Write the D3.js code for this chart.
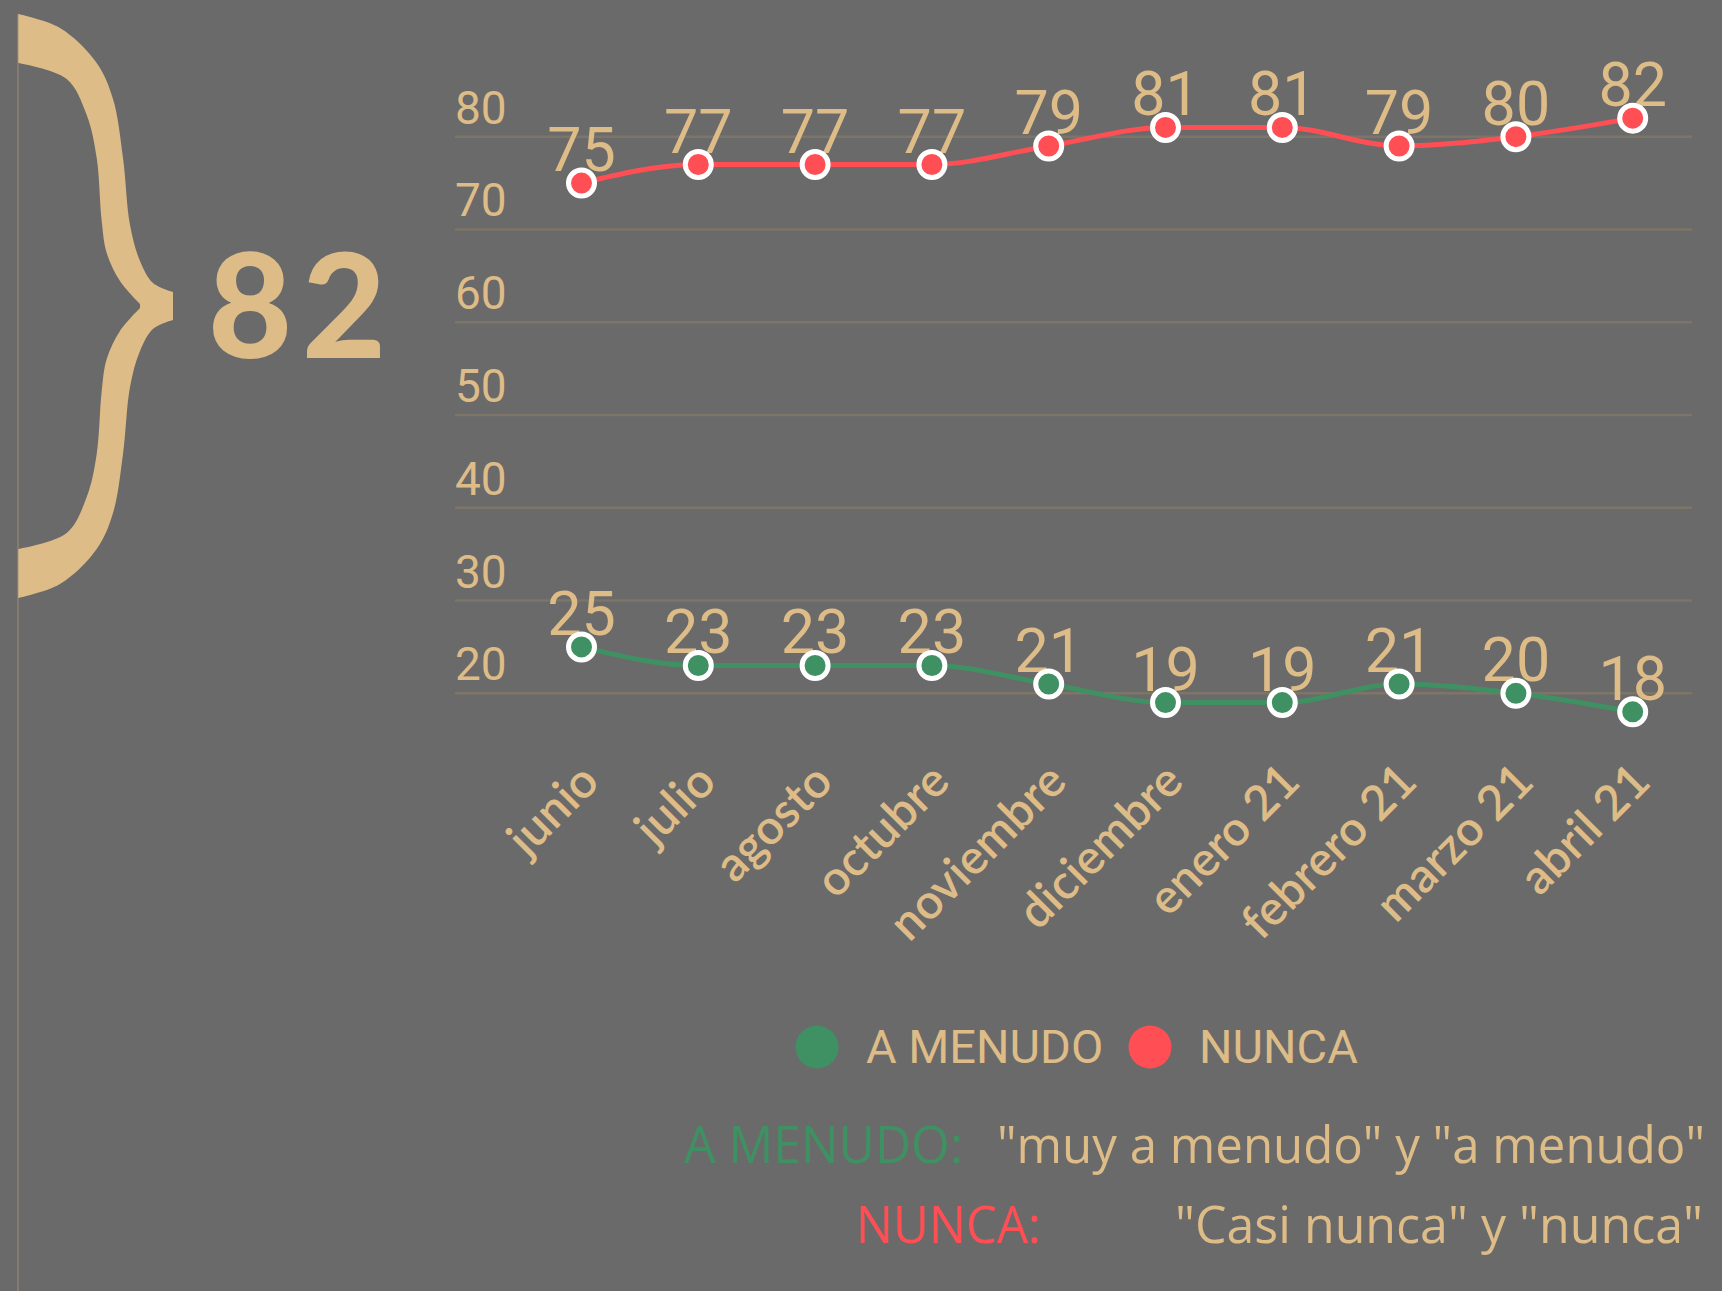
<!DOCTYPE html>
<html>
<head>
<meta charset="utf-8">
<script src="https://cdn.jsdelivr.net/npm/d3@7"></script>
<style>
  body { margin: 0; background: #6a6a6a; }
  svg { display: block; }
</style>
</head>
<body>
<svg id="chart" width="1722" height="1291"></svg>
<script>

// months on the x axis
let months = ["junio", "julio", "agosto", "octubre", "noviembre", "diciembre",
              "enero 21", "febrero 21", "marzo 21", "abril 21"];
// series values (%)
let aMenudo = [25, 23, 23, 23, 21, 19, 19, 21, 20, 18];
let nunca = [75, 77, 77, 77, 79, 81, 81, 79, 80, 82];
// y axis ticks
let yTicks = [20, 30, 40, 50, 60, 70, 80];
// headline figure
let bigNumber = "82";

let tan = "#ddbc88";
let green = "#3f9163";
let red = "#ff4f55";
let gridColor = "#7e7569";

class MenudoNuncaVis {

    constructor(svg_id) {
        this.svg_id = svg_id;
        this.render();
    }
    render() {
        let svg = d3.select("#" + this.svg_id);

        svg.append("rect")
            .attr("width", 1722)
            .attr("height", 1291)
            .style("fill", "#6a6a6a");

        // scales
        let x = d3.scalePoint()
            .domain(months)
            .range([581.5, 1632.7]);
        let y = d3.scaleLinear()
            .domain([20, 80])
            .range([693.3, 136.7]);

        // gridlines + tick labels
        let grid = svg.append("g");
        grid.selectAll(".grid").data(yTicks)
            .enter().append("line")
            .attr("class", "grid")
            .attr("x1", 455)
            .attr("x2", 1692)
            .attr("y1", function(d) {return y(d);})
            .attr("y2", function(d) {return y(d);})
            .style("stroke", gridColor)
            .style("stroke-width", 2.5);
        grid.selectAll(".ytick").data(yTicks)
            .enter().append("text")
            .attr("class", "ytick")
            .attr("x", 455)
            .attr("y", function(d) {return y(d) - 13;})
            .style("font-family", "Roboto")
            .style("font-size", "46px")
            .style("fill", tan)
            .text(function(d) {return d;});

        // x labels, rotated
        svg.selectAll(".xlab").data(months)
            .enter().append("text")
            .attr("class", "xlab")
            .attr("transform", function(d) {return "translate(" + (x(d) + 20) + ",784) rotate(-45)";})
            .attr("text-anchor", "end")
            .style("font-family", "Lato")
            .style("font-weight", 600)
            .style("font-size", "48px")
            .style("fill", tan)
            .text(function(d) {return d;});

        let series = [
            {name: "A MENUDO", values: aMenudo, color: green},
            {name: "NUNCA", values: nunca, color: red}
        ];

        let line = d3.line()
            .x(function(d, i) {return x(months[i]);})
            .y(function(d) {return y(d);})
            .curve(d3.curveMonotoneX);

        let sg = svg.selectAll(".series").data(series)
            .enter().append("g")
            .attr("class", "series");

        sg.append("path")
            .attr("d", function(d) {return line(d.values);})
            .style("fill", "none")
            .style("stroke", function(d) {return d.color;})
            .style("stroke-width", 5);

        // value labels (under the markers)
        sg.selectAll(".val").data(function(d) {return d.values;})
            .enter().append("text")
            .attr("class", "val")
            .attr("x", function(d, i) {return x(months[i]);})
            .attr("y", function(d) {return y(d) - 12;})
            .attr("text-anchor", "middle")
            .style("font-family", "Roboto")
            .style("font-size", "61px")
            .style("fill", tan)
            .text(function(d) {return d;});

        sg.selectAll(".dot").data(function(d) {return d.values.map(function(v) {return {v: v, c: d.color};});})
            .enter().append("circle")
            .attr("class", "dot")
            .attr("cx", function(d, i) {return x(months[i]);})
            .attr("cy", function(d) {return y(d.v);})
            .attr("r", 13)
            .style("fill", function(d) {return d.c;})
            .style("stroke", "#ffffff")
            .style("stroke-width", 5);

        // legend
        let legX = [817, 1150];
        let leg = svg.selectAll(".leg").data(series)
            .enter().append("g")
            .attr("class", "leg")
            .attr("transform", function(d, i) {return "translate(" + legX[i] + ",1047)";});
        leg.append("circle")
            .attr("r", 21.5)
            .style("fill", function(d) {return d.color;});
        leg.append("text")
            .attr("x", 49)
            .attr("y", 16)
            .style("font-family", "Roboto")
            .style("font-size", "47px")
            .style("fill", tan)
            .text(function(d) {return d.name;});

        // definitions
        let notes = [
            {t: "A MENUDO:", x: 684, y: 1163, w: 279, c: green},
            {t: "\"muy a menudo\" y \"a menudo\"", x: 997, y: 1163, w: 708, c: tan},
            {t: "NUNCA:", x: 856, y: 1243, w: 185, c: red},
            {t: "\"Casi nunca\" y \"nunca\"", x: 1175, y: 1243, w: 528, c: tan}
        ];
        svg.selectAll(".note").data(notes)
            .enter().append("text")
            .attr("class", "note")
            .attr("x", function(d) {return d.x;})
            .attr("y", function(d) {return d.y;})
            .attr("textLength", function(d) {return d.w;})
            .attr("lengthAdjust", "spacingAndGlyphs")
            .style("font-family", "Open Sans")
            .style("font-size", "52px")
            .style("fill", function(d) {return d.c;})
            .text(function(d) {return d.t;});

        this.drawBrace(svg);
    }
    drawBrace(svg) {
        let cy = 306;

        // left rule
        svg.append("line")
            .attr("x1", 18).attr("x2", 18)
            .attr("y1", 14).attr("y2", 1291)
            .style("stroke", "#857b6e")
            .style("stroke-width", 2);

        // top half of the brace, offsets from cy
        let outer = [[18.3, -292], [60, -278], [96.7, -243], [113, -207], [123, -148],
                     [130, -81], [140, -45], [153, -23], [173, -14]];
        let inner = [[140, -2], [120, -25], [106.7, -53], [101.7, -85], [96.7, -148],
                     [86.7, -191], [66.7, -227], [18.3, -243]];
        let flip = function(p) {return [p[0], -p[1]];};

        let edge = d3.line()
            .x(function(d) {return d[0];})
            .y(function(d) {return cy + d[1];})
            .curve(d3.curveCatmullRom);

        let parts = [
            edge(outer),
            edge(outer.map(flip).reverse()),
            edge(inner.map(flip).reverse()),
            edge(inner)
        ];
        let dstr = parts[0];
        for (let i = 1; i < parts.length; i++) {
            dstr += "L" + parts[i].slice(1);
        }
        svg.append("path")
            .attr("d", dstr + "Z")
            .style("fill", tan);

        svg.append("text")
            .attr("x", 208)
            .attr("y", 358)
            .attr("textLength", 178)
            .attr("lengthAdjust", "spacing")
            .style("font-family", "Lato")
            .style("font-weight", 900)
            .style("font-size", "145px")
            .style("fill", tan)
            .text(bigNumber);
    }
}

let vis = new MenudoNuncaVis("chart");
</script>
</body>
</html>
